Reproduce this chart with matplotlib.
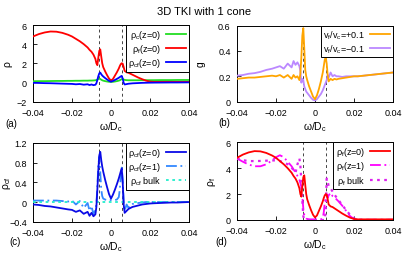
import matplotlib
matplotlib.use("Agg")
import matplotlib.pyplot as plt

plt.rcParams['font.family'] = ['Liberation Sans', 'DejaVu Sans']
plt.rcParams['mathtext.fontset'] = 'custom'
plt.rcParams['mathtext.rm'] = 'Liberation Sans'
plt.rcParams['mathtext.it'] = 'Liberation Sans'
plt.rcParams['mathtext.default'] = 'regular'

# ---------------- data ----------------
omega = [-0.040, -0.037, -0.034, -0.031, -0.028, -0.025, -0.022, -0.020, -0.018, -0.016,
         -0.014, -0.012, -0.011, -0.010, -0.009, -0.008, -0.0075, -0.007, -0.0065, -0.006,
         -0.0055, -0.005, -0.0045, -0.004, -0.003, -0.002, -0.001, 0.0, 0.001, 0.002,
         0.003, 0.004, 0.0045, 0.005, 0.0055, 0.006, 0.0065, 0.007, 0.008, 0.009,
         0.010, 0.011, 0.012, 0.014, 0.016, 0.018, 0.020, 0.022, 0.025, 0.028,
         0.031, 0.034, 0.037, 0.040]

rho_c_z0 = [0.12, 0.13, 0.13, 0.14, 0.15, 0.15, 0.16, 0.16, 0.17, 0.17,
            0.18, 0.18, 0.19, 0.19, 0.20, 0.22, 0.25, 0.28, 0.35, 0.40,
            0.35, 0.28, 0.22, 0.18, 0.13, 0.09, 0.06, 0.05, 0.06, 0.09,
            0.13, 0.18, 0.22, 0.28, 0.33, 0.35, 0.30, 0.26, 0.23, 0.22,
            0.22, 0.22, 0.22, 0.22, 0.23, 0.23, 0.23, 0.23, 0.24, 0.24,
            0.24, 0.25, 0.25, 0.25]

rho_f_z0 = [4.80, 5.05, 5.22, 5.32, 5.30, 5.18, 4.98, 4.80, 4.55, 4.30,
            4.00, 3.65, 3.40, 3.20, 2.90, 2.45, 2.00, 1.80, 2.60, 3.30,
            3.45, 2.70, 2.00, 1.60, 1.15, 0.75, 0.40, 0.20, 0.35, 0.70,
            1.05, 1.45, 1.70, 1.90, 2.00, 1.95, 1.60, 1.20, 1.05, 1.00,
            0.90, 0.80, 0.70, 0.50, 0.33, 0.18, 0.08, 0.05, 0.05, 0.05,
            0.05, 0.05, 0.05, 0.05]

rho_cf_z0 = [-0.05, -0.06, -0.08, -0.09, -0.11, -0.13, -0.15, -0.16, -0.20, -0.17,
             -0.24, -0.20, -0.28, -0.22, -0.29, -0.25, -0.10, 0.25, 0.65, 0.95,
             1.02, 0.85, 0.72, 0.62, 0.45, 0.30, 0.16, 0.07, 0.15, 0.25,
             0.36, 0.48, 0.55, 0.62, 0.68, 0.40, -0.05, -0.22, -0.18, -0.14,
             -0.12, -0.10, -0.09, -0.07, -0.05, -0.04, -0.03, -0.025, -0.02, -0.015,
             -0.01, -0.01, -0.005, 0.0]

rho_cf_z1 = [0.03, 0.03, 0.03, 0.03, 0.03, 0.02, 0.01, 0.03, -0.05, 0.02,
             -0.12, -0.02, -0.18, -0.08, -0.25, -0.15, -0.05, 0.30, 0.75, 0.92,
             0.60, 0.25, 0.12, 0.07, 0.05, 0.04, 0.04, 0.04, 0.04, 0.04,
             0.05, 0.10, 0.25, 0.50, 0.70, 0.45, 0.00, -0.18, -0.05, -0.12,
             -0.06, -0.04, -0.03, -0.02, -0.01, 0.0, 0.0, 0.0, 0.0, 0.0,
             0.0, 0.0, 0.0, 0.0]

bulk_omega = [-0.04, 0.04]
rho_cf_bulk = [0.0, 0.0]

g_plus = [0.18, 0.185, 0.19, 0.19, 0.195, 0.20, 0.205, 0.20, 0.21, 0.19,
          0.21, 0.18, 0.21, 0.19, 0.20, 0.17, 0.22, 0.35, 0.52, 0.58,
          0.42, 0.25, 0.20, 0.17, 0.12, 0.08, 0.04, 0.02, 0.05, 0.10,
          0.16, 0.23, 0.28, 0.33, 0.35, 0.30, 0.21, 0.16, 0.18, 0.17,
          0.18, 0.175, 0.18, 0.185, 0.19, 0.195, 0.20, 0.20, 0.205, 0.21,
          0.215, 0.22, 0.225, 0.23]

g_minus = [0.205, 0.21, 0.22, 0.225, 0.235, 0.25, 0.26, 0.27, 0.28, 0.26,
           0.30, 0.27, 0.32, 0.29, 0.31, 0.28, 0.24, 0.15, 0.18, 0.17,
           0.12, 0.10, 0.08, 0.07, 0.05, 0.03, 0.015, 0.01, 0.02, 0.04,
           0.06, 0.09, 0.11, 0.13, 0.15, 0.17, 0.21, 0.19, 0.23, 0.20,
           0.21, 0.20, 0.20, 0.195, 0.20, 0.20, 0.20, 0.20, 0.205, 0.21,
           0.215, 0.22, 0.225, 0.23]

rho_f_z1 = [4.75, 4.50, 4.28, 4.15, 4.15, 4.30, 4.60, 4.85, 5.00, 4.85,
            4.50, 4.15, 3.90, 3.70, 3.40, 3.10, 2.85, 2.55, 1.80, 0.90,
            0.40, 0.20, 0.12, 0.08, 0.05, 0.05, 0.05, 0.05, 0.05, 0.05,
            0.05, 0.15, 0.60, 1.30, 1.80, 2.00, 1.70, 1.90, 2.10, 1.85,
            1.75, 1.60, 1.45, 1.10, 0.70, 0.30, 0.08, 0.03, 0.02, 0.02,
            0.02, 0.02, 0.02, 0.02]

rho_f_bulk = [4.75, 4.62, 4.55, 4.55, 4.56, 4.58, 4.60, 4.60, 4.55, 4.45,
              4.30, 4.05, 3.85, 3.65, 4.30, 4.75, 4.20, 3.00, 1.50, 0.30,
              0.05, 0.01, 0.0, 0.0, 0.0, 0.0, 0.0, 0.0, 0.0, 0.0,
              0.0, 0.0, 0.0, 0.0, 0.80, 3.20, 3.00, 2.60, 2.45, 2.20,
              1.95, 1.75, 1.55, 1.15, 0.75, 0.40, 0.12, 0.03, 0.0, 0.0,
              0.0, 0.0, 0.0, 0.0]

peak_lines = [-0.006, 0.0058]
xticks = [-0.04, -0.02, 0.0, 0.02, 0.04]
xticklabels = ['\u22120.04', '\u22120.02', '0', '0.02', '0.04']

# ---------------- figure ----------------
W, H = 407, 255
fig = plt.figure(figsize=(W / 100, H / 100), dpi=100)

def add_ax(l, t, r, b):
    return fig.add_axes([l / W, 1 - b / H, (r - l) / W, (b - t) / H])

axa = add_ax(33, 26, 189, 102.5)
axb = add_ax(237, 26.5, 393, 102.7)
axc = add_ax(33, 144, 189, 222.7)
axd = add_ax(237, 143.3, 393, 221)

fs = 6.5

def style(ax, ylim, yticks, yticklabels, ylabel, ylabel_x, panel, px, py):
    ax.set_xlim(-0.04, 0.04)
    ax.set_ylim(*ylim)
    ax.set_xticks(xticks)
    ax.set_xticklabels(xticklabels)
    ax.set_yticks(yticks)
    ax.set_yticklabels(yticklabels)
    ax.tick_params(direction='in', length=3, width=0.6, labelsize=fs, pad=4.5)
    for s in ax.spines.values():
        s.set_linewidth(0.7)
    for x in peak_lines:
        ax.axvline(x, color='#444444', lw=0.7, ls=(0, (3, 3)), zorder=1)
    ax.set_xlabel('\u03c9/D$_c$', fontsize=7.5, labelpad=1.5)
    ax.set_ylabel(ylabel, fontsize=7.5, labelpad=2)
    ax.yaxis.set_label_coords(ylabel_x, 0.5)
    ax.text(px, py, panel, transform=ax.transAxes, fontsize=7, ha='left', va='center')

def leg(ax):
    lg = ax.legend(loc='upper right', fontsize=fs, markerfirst=False, frameon=True,
                   fancybox=False, edgecolor='black', framealpha=1, borderaxespad=0,
                   handlelength=2.2, handletextpad=0.6, labelspacing=0.15, borderpad=0.3)
    lg.get_frame().set_linewidth(0.7)
    return lg

lw = 1.3
# (a)
axa.plot(omega, rho_c_z0, color='#22dd22', lw=lw, label='\u03c1$_c$(z=0)', zorder=3)
axa.plot(omega, rho_f_z0, color='#ff0000', lw=lw, label='\u03c1$_f$(z=0)', zorder=3)
axa.plot(omega, rho_cf_z0, color='#0000ff', lw=lw, label='\u03c1$_{cf}$(z=0)', zorder=4)
style(axa, (-2, 6), [-2, 0, 2, 4, 6], ['\u22122', '0', '2', '4', '6'], '\u03c1', -0.135,
      '(a)', -0.18, -0.28)
leg(axa)

# (b)
axb.plot(omega, g_plus, color='#ffa500', lw=lw, label='v$_f$/v$_c$=+0.1', zorder=4)
axb.plot(omega, g_minus, color='#bb88ff', lw=lw, label='v$_f$/v$_c$=\u22120.1', zorder=3)
style(axb, (0, 0.6), [0, 0.2, 0.4, 0.6], ['0', '0.2', '0.4', '0.6'], 'g', -0.2,
      '(b)', -0.12, -0.27)
leg(axb)

# (c)
axc.plot(omega, rho_cf_z0, color='#0a0ae6', lw=lw, label='\u03c1$_{cf}$(z=0)', zorder=4)
axc.plot(omega, rho_cf_z1, color='#3388ff', lw=lw, ls=(0, (6, 2, 1, 2)),
         label='\u03c1$_{cf}$(z=1)', zorder=3)
axc.plot(bulk_omega, rho_cf_bulk, color='#22eecc', lw=lw, ls=(0, (1.5, 2)),
         label='\u03c1$_{cf}$ bulk', zorder=3)
style(axc, (-0.4, 1.2), [-0.4, 0, 0.4, 0.8, 1.2], ['\u22120.4', '0', '0.4', '0.8', '1.2'],
      '\u03c1$_{cf}$', -0.13, '(c)', -0.15, -0.25)
leg(axc)

# (d)
axd.plot(omega, rho_f_z0, color='#ff0000', lw=lw, label='\u03c1$_f$(z=0)', zorder=4)
axd.plot(omega, rho_f_z1, color='#ff00ff', lw=lw, ls=(0, (6, 2, 1, 2)),
         label='\u03c1$_f$(z=1)', zorder=3)
axd.plot(omega, rho_f_bulk, color='#dd22ee', lw=1.6, ls=(0, (1.2, 2)),
         label='\u03c1$_f$ bulk', zorder=3)
style(axd, (0, 6), [0, 2, 4, 6], ['0', '2', '4', '6'], '\u03c1$_f$', -0.12,
      '(d)', -0.14, -0.27)
leg(axd)

fig.text(204 / W, 1 - 12 / H, '3D TKI with 1 cone', ha='center', va='center', fontsize=8)

fig.savefig('out.png', dpi=100)
